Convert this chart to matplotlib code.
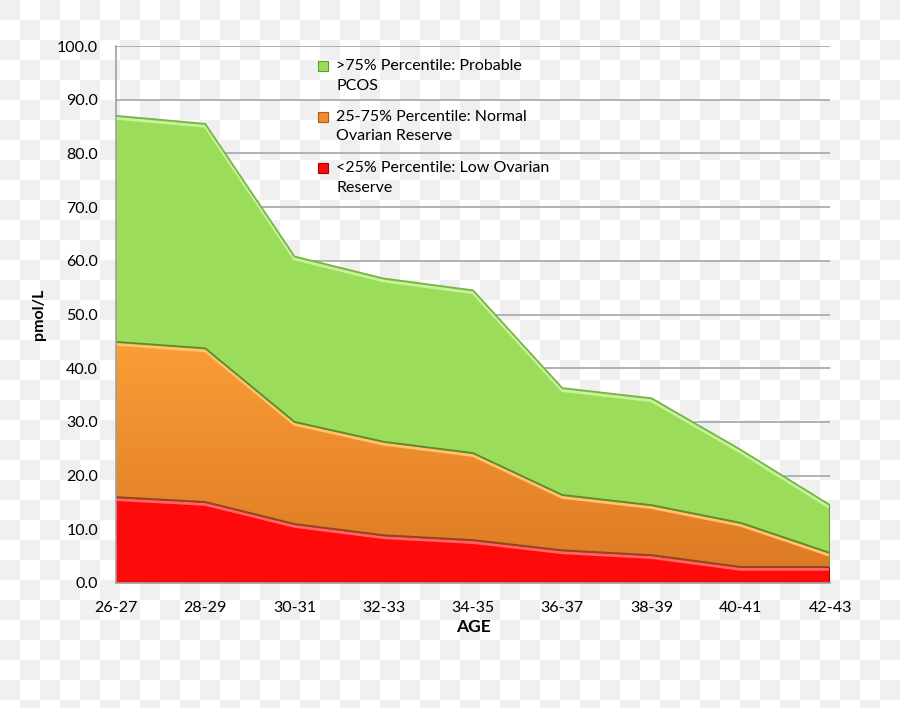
import numpy as np
import matplotlib.pyplot as plt
from matplotlib.patches import Rectangle, Polygon
from matplotlib.colors import LinearSegmentedColormap
from matplotlib import transforms

ages = ['26-27', '28-29', '30-31', '32-33', '34-35', '36-37', '38-39', '40-41', '42-43']
# percentile curves (pmol/L)
p25 = [16.0, 15.1, 11.0, 8.9, 8.0, 6.1, 5.2, 3.0, 3.0]
p75 = [44.9, 43.7, 30.0, 26.3, 24.2, 16.4, 14.5, 11.2, 5.6]
p_top = [87.0, 85.5, 60.8, 56.7, 54.5, 36.3, 34.4, 24.8, 14.5]
labels = ['>75% Percentile: Probable\nPCOS',
          '25-75% Percentile: Normal\nOvarian Reserve',
          '<25% Percentile: Low Ovarian\nReserve']
yticks = np.arange(0, 101, 10)

plt.rcParams['font.family'] = ['Lato', 'DejaVu Sans']

W, H = 900, 708
fig = plt.figure(figsize=(W / 100, H / 100), dpi=100)

# checkerboard (transparent background look)
yy, xx = np.mgrid[0:H, 0:W]
board = np.where(((yy // 20) + (xx // 20)) % 2 == 0, 240, 255).astype(np.uint8)
fig.figimage(np.dstack([board] * 3), xo=0, yo=0, origin='upper', zorder=-10)

ax = fig.add_axes([116 / W, 1 - 583 / H, (830 - 116) / W, (583 - 46) / H])
ax.set_facecolor('none')
x = np.arange(len(ages))

green = '#9BDD5B'
red = '#FE0A0A'

ax.fill_between(x, p75, p_top, facecolor=green, lw=0, zorder=2)
# orange band with a vertical gradient
band = Polygon(list(zip(x, p75)) + list(zip(x[::-1], p25[::-1])),
               closed=True, facecolor='none', edgecolor='none')
ax.add_patch(band)
grad = np.linspace(0, 1, 256).reshape(-1, 1)
cmap = LinearSegmentedColormap.from_list('org', ['#DC7824', '#FA9E36'])
im = ax.imshow(grad, extent=[x[0], x[-1], 0, max(p75)], aspect='auto',
               origin='lower', cmap=cmap, zorder=2.1)
im.set_clip_path(band)
ax.fill_between(x, 0, p25, facecolor=red, lw=0, zorder=2.2)

# edges with a little bevel highlight
down = transforms.offset_copy(ax.transData, fig=fig, x=0, y=-1.8, units='points')
for top, dark, light in [(p_top, '#79B544', '#C6F39A'),
                         (p75, '#5E8A2E', '#FFC46A'),
                         (p25, '#8A4A20', '#FF6464')]:
    ax.plot(x, top, color=light, lw=2.0, transform=down, zorder=3,
            solid_capstyle='butt')
    ax.plot(x, top, color=dark, lw=1.3, zorder=3.1)
ax.vlines(x[-1], 0, p_top[-1], color='#6E9E3C', lw=1.5, zorder=3.2)
ax.vlines(x[-1], 0, p25[-1], color='#B00000', lw=1.5, zorder=3.3)

ax.set_xlim(x[0], x[-1])
ax.set_ylim(0, 100)
ax.set_yticks(yticks)
ax.set_yticklabels([f'{v:.1f}' for v in yticks])
ax.set_xticks(x)
ax.set_xticklabels(ages)
ax.yaxis.grid(True, color='#A6A6A6', lw=1.2)
ax.set_axisbelow(True)
for s in ['top', 'right']:
    ax.spines[s].set_visible(False)
for s in ['left', 'bottom']:
    ax.spines[s].set_color('#A0A0A0')
    ax.spines[s].set_linewidth(1.2)
    ax.spines[s].set_zorder(4)
ax.tick_params(axis='both', length=0, labelsize=11.5, colors='black')
ax.tick_params(axis='y', pad=13)
ax.tick_params(axis='x', pad=13)
ax.set_xlabel('AGE', fontweight='bold', fontsize=12.5, labelpad=3)
ax.set_ylabel('pmol/L', fontweight='bold', fontsize=11.5, labelpad=8)

# legend, drawn by hand so the square sits on the first line
marker_cols = [(green, '#5E9A2E'), ('#F08C2E', '#A85A18'), (red, '#A00000')]
for i, (lab, (fc, ec)) in enumerate(zip(labels, marker_cols)):
    ytop = 59 + 51 * i
    fig.add_artist(Rectangle((318 / W, 1 - (ytop + 12) / H), 10 / W, 10 / H,
                             transform=fig.transFigure, facecolor=fc,
                             edgecolor=ec, lw=0.8))
    fig.text(336 / W, 1 - ytop / H, lab, va='top', ha='left', fontsize=11.5,
             linespacing=1.5)

fig.savefig('out.png', dpi=100)
